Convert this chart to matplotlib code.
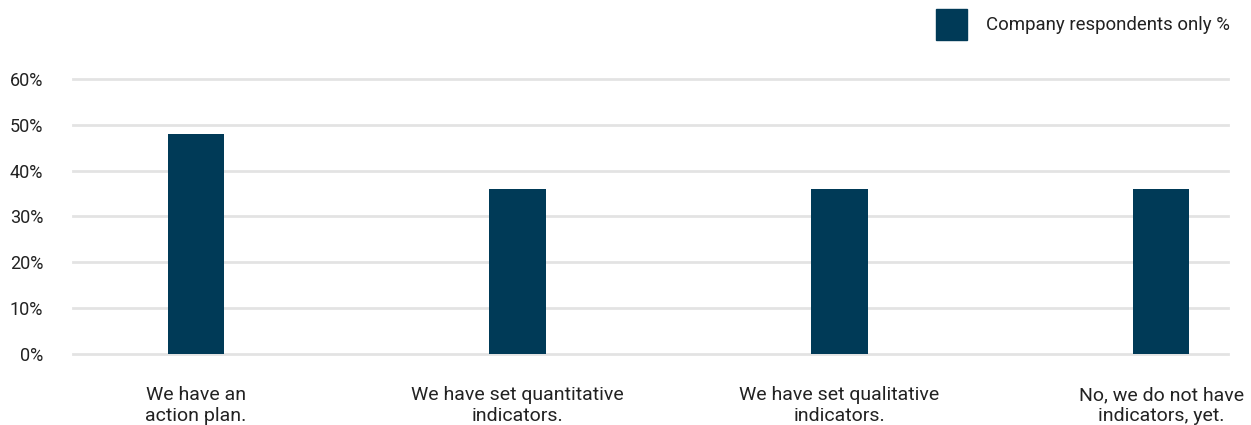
import matplotlib.pyplot as plt
from matplotlib.patches import Patch

plt.rcParams['font.family'] = ['Roboto', 'DejaVu Sans']

# Survey answers and share of company respondents (%)
categories = [
    "We have an\naction plan.",
    "We have set quantitative\nindicators.",
    "We have set qualitative\nindicators.",
    "No, we do not have\nindicators, yet.",
]
company_pct = [48, 36, 36, 36]
y_ticks = [0, 10, 20, 30, 40, 50, 60]
series_name = "Company respondents only %"

bar_color = "#003a57"
grid_color = "#e3e3e3"
text_color = "#222222"

W, H = 1251, 425
fig = plt.figure(figsize=(W / 100, H / 100), dpi=100)
ax = fig.add_axes([73 / W, 71 / H, (1228 - 73) / W, (354 - 79) / H])

x = list(range(len(categories)))
ax.bar(x, company_pct, width=0.175, color=bar_color, zorder=3)

ax.set_xlim(-0.382, 3.208)
ax.set_ylim(0, 60)
ax.set_yticks(y_ticks)
ax.set_yticklabels([f"{v}%" for v in y_ticks])
ax.set_xticks(x)
ax.set_xticklabels(categories, fontsize=14, color=text_color, linespacing=1.2)

ax.grid(axis="y", color=grid_color, linewidth=2, zorder=0)
ax.tick_params(axis="y", length=0, pad=21.5, labelsize=13, labelcolor=text_color)
ax.tick_params(axis="x", length=0, pad=23)
for s in ax.spines.values():
    s.set_visible(False)
for gl in ax.get_ygridlines():
    gl.set_clip_on(False)

fig.legend(handles=[Patch(color=bar_color, label=series_name)],
           loc="upper right", bbox_to_anchor=(1230 / W, 1 - 9 / H),
           frameon=False, fontsize=13.4, handlelength=1.67, handleheight=2.2,
           handletextpad=1.02, borderpad=0, borderaxespad=0,
           labelcolor=text_color)

fig.savefig("out.png", dpi=100)
